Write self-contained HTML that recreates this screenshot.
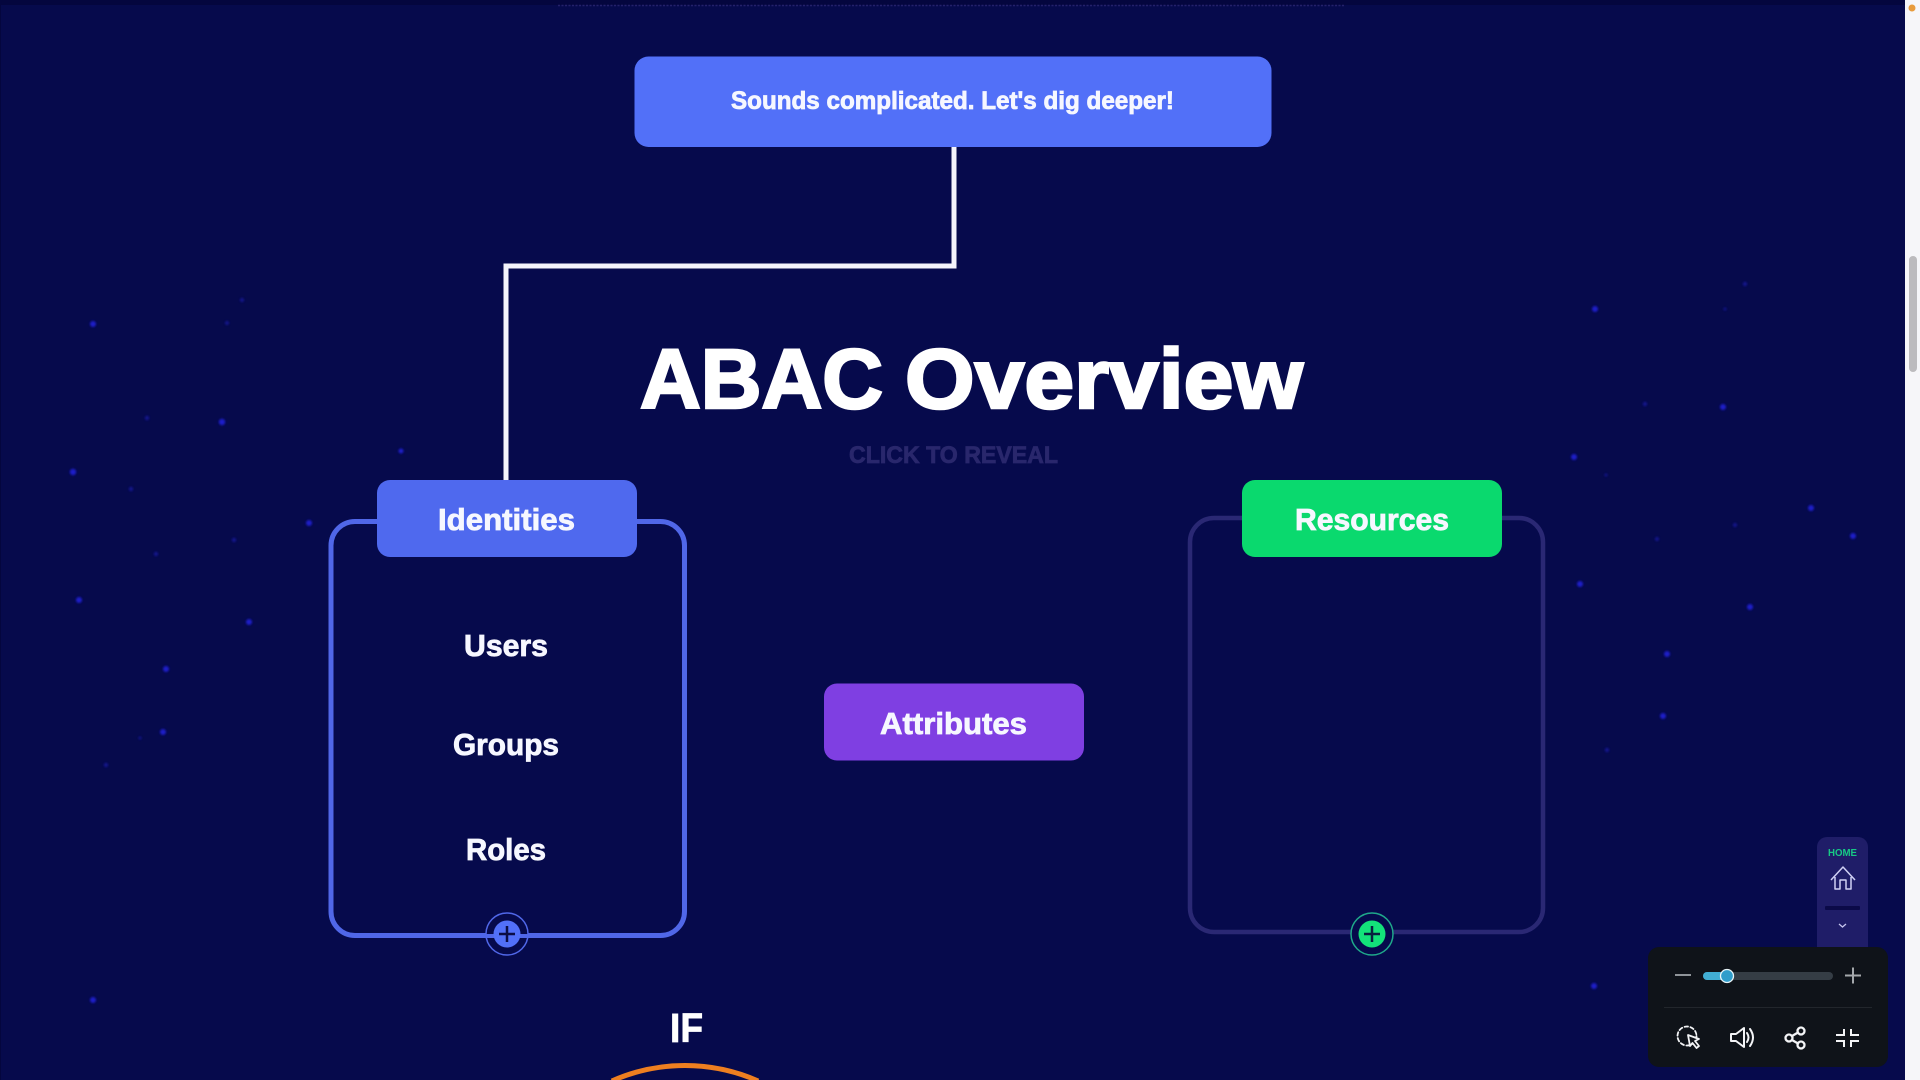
<!DOCTYPE html>
<html lang="en"><head><meta charset="utf-8"><title>ABAC Overview</title>
<style>
html,body{margin:0;padding:0;width:1920px;height:1080px;overflow:hidden;background:#060a4c}
svg{display:block;position:absolute;left:0;top:0}
text{font-family:"Liberation Sans",sans-serif;font-weight:700;fill:#f6f7ff;stroke:#f6f7ff;stroke-width:.8}
</style></head><body>
<svg width="1920" height="1080" viewBox="0 0 1920 1080" xmlns="http://www.w3.org/2000/svg">
<defs><filter id="b" x="-150%" y="-150%" width="400%" height="400%"><feGaussianBlur stdDeviation="1.100"/></filter></defs>
<rect width="1920" height="1080" fill="#060a4c"/>
<rect width="1905" height="5" fill="#04063e"/>
<rect width="1" height="1080" fill="#04063e"/>
<line x1="558" y1="5.500" x2="1345" y2="5.500" stroke="#24216a" stroke-width="1.500" stroke-dasharray="2 1.500"/>
<g fill="#2020e0" filter="url(#b)" opacity=".85">
<circle cx="93" cy="324" r="3"/><circle cx="222" cy="422" r="3.200"/><circle cx="73" cy="472" r="3.200"/><circle cx="79" cy="600" r="3"/><circle cx="249" cy="622" r="3"/><circle cx="166" cy="669" r="3"/><circle cx="163" cy="732" r="3"/><circle cx="93" cy="1000" r="3"/><circle cx="309" cy="523" r="3"/><circle cx="401" cy="451" r="2.500"/>
<circle cx="1595" cy="309" r="3"/><circle cx="1723" cy="407" r="3"/><circle cx="1574" cy="457" r="3"/><circle cx="1580" cy="584" r="3"/><circle cx="1750" cy="607" r="3"/><circle cx="1667" cy="654" r="3"/><circle cx="1663" cy="716" r="3"/><circle cx="1811" cy="508" r="3"/><circle cx="1853" cy="536" r="3"/><circle cx="1594" cy="986" r="3"/>
</g>
<g fill="#1c1cb8" filter="url(#b)" opacity=".6">
<circle cx="147" cy="418" r="2.200"/><circle cx="131" cy="489" r="2.200"/><circle cx="156" cy="554" r="2.200"/><circle cx="234" cy="540" r="2.200"/><circle cx="242" cy="300" r="2"/><circle cx="227" cy="323" r="2"/><circle cx="106" cy="765" r="2.200"/><circle cx="140" cy="738" r="1.500"/>
<circle cx="1745" cy="284" r="2.200"/><circle cx="1725" cy="309" r="1.500"/><circle cx="1645" cy="404" r="2.200"/><circle cx="1657" cy="539" r="2"/><circle cx="1735" cy="525" r="2"/><circle cx="1606" cy="475" r="1.500"/><circle cx="1607" cy="750" r="2.200"/>
</g>
<!-- connector -->
<path d="M954 147V266H506V482" fill="none" stroke="#f4f4fb" stroke-width="5"/>
<!-- top button -->
<rect x="634.500" y="56.500" width="637" height="90.500" rx="14" fill="#5270f8"/>
<text x="731" y="109" font-size="25" textLength="443" lengthAdjust="spacingAndGlyphs">Sounds complicated. Let's dig deeper!</text>
<!-- title -->
<text x="640" y="408" font-size="84" textLength="243" lengthAdjust="spacingAndGlyphs" style="fill:#fff;stroke:#fff;stroke-width:2.600">ABAC</text>
<text x="905" y="408" font-size="84" textLength="398" lengthAdjust="spacingAndGlyphs" style="fill:#fff;stroke:#fff;stroke-width:2.600">Overview</text>
<text x="849" y="463" font-size="24" textLength="209" lengthAdjust="spacingAndGlyphs" style="fill:#29276c;stroke:#29276c">CLICK TO REVEAL</text>
<!-- identities -->
<rect x="331" y="521.500" width="353.500" height="414" rx="24" fill="none" stroke="#5067e8" stroke-width="5"/>
<rect x="377" y="480" width="260" height="77" rx="13" fill="#4f69ee"/>
<text x="438" y="530" font-size="31" textLength="137" lengthAdjust="spacingAndGlyphs">Identities</text>
<text x="464" y="656" font-size="31" textLength="84" lengthAdjust="spacingAndGlyphs">Users</text>
<text x="453" y="755" font-size="31" textLength="106" lengthAdjust="spacingAndGlyphs">Groups</text>
<text x="466" y="860" font-size="31" textLength="80" lengthAdjust="spacingAndGlyphs">Roles</text>
<circle cx="507" cy="934" r="21" fill="#060a4c" stroke="#5067e8" stroke-width="1.500"/>
<path d="M486 936h42" stroke="#5067e8" stroke-width="4"/>
<circle cx="507" cy="934" r="13.500" fill="#5270f8"/>
<path d="M507 926v16M499 934h16" stroke="#0b0d45" stroke-width="2.500"/>
<!-- resources -->
<rect x="1190" y="518" width="353" height="414" rx="24" fill="none" stroke="#2a2874" stroke-width="4.500"/>
<rect x="1242" y="480" width="260" height="77" rx="13" fill="#0ad96e"/>
<text x="1295" y="530" font-size="31" textLength="154" lengthAdjust="spacingAndGlyphs">Resources</text>
<circle cx="1372" cy="934" r="21" fill="#060a4c" stroke="#1fa88a" stroke-width="1.500"/>
<circle cx="1372" cy="934" r="13.500" fill="#13e27a"/>
<path d="M1372 926v16M1364 934h16" stroke="#08203f" stroke-width="2.500"/>
<!-- attributes -->
<rect x="824" y="683.500" width="260" height="77" rx="13" fill="#7f3fe2"/>
<text x="880" y="734" font-size="31" textLength="147" lengthAdjust="spacingAndGlyphs">Attributes</text>
<!-- IF -->
<text x="670" y="1042" font-size="41" textLength="33" lengthAdjust="spacingAndGlyphs" style="fill:#fff;stroke:#fff">IF</text>
<path d="M611.800 1081A180.500 180.500 0 0 1 758.200 1081" fill="none" stroke="#ee7f20" stroke-width="5"/>
<!-- home pill -->
<path d="M1817 948V847a10 10 0 0 1 10-10h31a10 10 0 0 1 10 10v101z" fill="#1f1d68"/>
<text x="1828" y="856" font-size="10" textLength="29" lengthAdjust="spacingAndGlyphs" style="fill:#17c985;stroke:none">HOME</text>
<path d="M1831 880l12-13 12 13M1835 877v12h5v-9h6v9h5v-12" fill="none" stroke="#cfd0f4" stroke-width="1.500" stroke-linejoin="round"/>
<rect x="1825" y="906" width="35" height="4" rx="1" fill="#0b0a48"/>
<path d="M1839 924l3.500 3 3.500-3" fill="none" stroke="#c5c5ee" stroke-width="1.300"/>
<!-- control panel -->
<rect x="1648" y="947" width="240" height="120" rx="11" fill="#0f1319"/>
<path d="M1675 975h16" stroke="#8f9499" stroke-width="2"/>
<rect x="1703" y="972" width="130" height="8" rx="4" fill="#353d45"/>
<path d="M1707 972h20v8h-20a4 4 0 0 1 0-8z" fill="#41aed4"/>
<circle cx="1727" cy="976" r="6.500" fill="#2f9dcb" stroke="#e8f4f8" stroke-width="1.300"/>
<path d="M1845 975.500h16M1853 967.500v16" stroke="#a4a8ac" stroke-width="2"/>
<path d="M1664 1007.500h208" stroke="#22262c" stroke-width="1"/>
<g fill="none" stroke="#f3f4f6" stroke-width="1.800" stroke-linejoin="round" stroke-linecap="round">
<circle cx="1687" cy="1036" r="9.500" stroke-dasharray="3.500 2.500"/>
<path d="M1688 1035l11 4-4 2 4 5-2.500 2-4-5-2.500 3z" fill="#0f1319"/>
<path d="M1731 1034h5l8-6v19l-8-6h-5zM1747 1033q3 4.500 0 9M1750 1029q6 8.500 0 17" stroke-width="2"/>
<circle cx="1801" cy="1031" r="3.500" stroke-width="2.300"/><circle cx="1789" cy="1038" r="3.500" stroke-width="2.300"/><circle cx="1801" cy="1045" r="3.500" stroke-width="2.300"/>
<path d="M1792 1036l6-3.500M1792 1040l6 3.500" stroke-width="2.300"/>
<path d="M1844 1029v6h-8M1851 1029v6h8M1844 1047v-6h-8M1851 1047v-6h8" stroke-width="2" stroke-linecap="butt" stroke-linejoin="miter"/>
</g>
<!-- scrollbar -->
<rect x="1905" y="0" width="15" height="1080" fill="#f6f6f9"/>
<rect x="1909" y="256" width="8" height="116" rx="4" fill="#bcbbbe"/>
<circle cx="1912" cy="8" r="3.500" fill="#e89b3c"/>
</svg>
</body></html>
